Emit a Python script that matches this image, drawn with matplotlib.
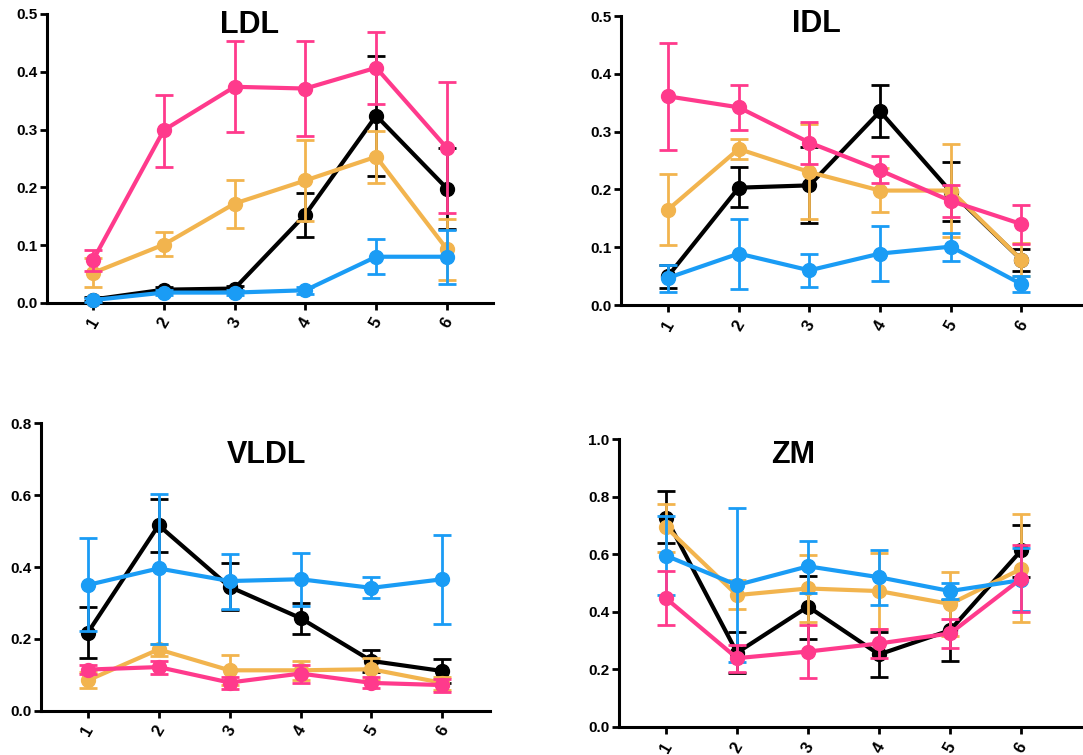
import numpy as np
import matplotlib
matplotlib.use('Agg')
import matplotlib.pyplot as plt

plt.rcParams['font.family'] = ['Liberation Sans', 'DejaVu Sans']
plt.rcParams['font.weight'] = 'bold'

x = [1, 2, 3, 4, 5, 6]
xlabels = ['1', '2', '3', '4', '5', '6']

# colours of the four groups
c_black = '#000000'
c_orange = '#F2B44E'
c_blue = '#1A9CF5'
c_pink = '#FF3A8C'

# LDL: mean, upper, lower
ldl_black = [0.006, 0.023, 0.025, 0.153, 0.324, 0.198]
ldl_black_hi = [0.010, 0.027, 0.030, 0.191, 0.428, 0.268]
ldl_black_lo = [0.003, 0.019, 0.020, 0.115, 0.219, 0.128]
ldl_orange = [0.052, 0.101, 0.172, 0.212, 0.253, 0.093]
ldl_orange_hi = [0.078, 0.122, 0.213, 0.282, 0.298, 0.145]
ldl_orange_lo = [0.028, 0.081, 0.130, 0.142, 0.208, 0.040]
ldl_blue = [0.005, 0.018, 0.018, 0.022, 0.080, 0.080]
ldl_blue_hi = [0.008, 0.022, 0.022, 0.028, 0.111, 0.127]
ldl_blue_lo = [0.002, 0.014, 0.014, 0.016, 0.050, 0.033]
ldl_pink = [0.074, 0.299, 0.374, 0.371, 0.407, 0.268]
ldl_pink_hi = [0.092, 0.360, 0.454, 0.453, 0.469, 0.382]
ldl_pink_lo = [0.056, 0.236, 0.295, 0.289, 0.345, 0.155]

# IDL
idl_black = [0.050, 0.203, 0.207, 0.335, 0.196, 0.078]
idl_black_hi = [0.070, 0.238, 0.274, 0.380, 0.247, 0.097]
idl_black_lo = [0.029, 0.169, 0.142, 0.290, 0.145, 0.058]
idl_orange = [0.165, 0.270, 0.230, 0.198, 0.198, 0.078]
idl_orange_hi = [0.226, 0.287, 0.313, 0.237, 0.279, 0.107]
idl_orange_lo = [0.104, 0.252, 0.149, 0.161, 0.118, 0.050]
idl_blue = [0.047, 0.089, 0.060, 0.089, 0.101, 0.036]
idl_blue_hi = [0.069, 0.149, 0.089, 0.136, 0.124, 0.051]
idl_blue_lo = [0.022, 0.028, 0.032, 0.042, 0.077, 0.022]
idl_pink = [0.361, 0.342, 0.281, 0.233, 0.180, 0.140]
idl_pink_hi = [0.454, 0.380, 0.317, 0.257, 0.207, 0.173]
idl_pink_lo = [0.268, 0.303, 0.244, 0.211, 0.152, 0.106]

# VLDL
vldl_black = [0.217, 0.516, 0.345, 0.258, 0.139, 0.111]
vldl_black_hi = [0.288, 0.588, 0.410, 0.301, 0.169, 0.145]
vldl_black_lo = [0.146, 0.443, 0.280, 0.215, 0.109, 0.078]
vldl_orange = [0.085, 0.171, 0.113, 0.113, 0.116, 0.078]
vldl_orange_hi = [0.109, 0.187, 0.155, 0.139, 0.146, 0.095]
vldl_orange_lo = [0.064, 0.154, 0.071, 0.087, 0.087, 0.059]
vldl_blue = [0.350, 0.396, 0.361, 0.366, 0.342, 0.366]
vldl_blue_hi = [0.480, 0.603, 0.436, 0.440, 0.371, 0.489]
vldl_blue_lo = [0.223, 0.187, 0.284, 0.291, 0.315, 0.243]
vldl_pink = [0.115, 0.122, 0.079, 0.104, 0.078, 0.072]
vldl_pink_hi = [0.127, 0.139, 0.095, 0.127, 0.095, 0.090]
vldl_pink_lo = [0.102, 0.104, 0.062, 0.078, 0.064, 0.053]

# ZM
zm_black = [0.727, 0.258, 0.418, 0.252, 0.336, 0.613]
zm_black_hi = [0.818, 0.331, 0.526, 0.331, 0.440, 0.702]
zm_black_lo = [0.638, 0.186, 0.306, 0.174, 0.230, 0.522]
zm_orange = [0.694, 0.458, 0.481, 0.472, 0.427, 0.549]
zm_orange_hi = [0.776, 0.510, 0.596, 0.603, 0.537, 0.738]
zm_orange_lo = [0.609, 0.410, 0.364, 0.342, 0.317, 0.363]
zm_blue = [0.595, 0.493, 0.558, 0.520, 0.472, 0.510]
zm_blue_hi = [0.731, 0.761, 0.647, 0.615, 0.500, 0.620]
zm_blue_lo = [0.458, 0.226, 0.466, 0.423, 0.444, 0.404]
zm_pink = [0.447, 0.239, 0.262, 0.290, 0.325, 0.515]
zm_pink_hi = [0.542, 0.284, 0.354, 0.339, 0.375, 0.632]
zm_pink_lo = [0.354, 0.190, 0.171, 0.241, 0.273, 0.400]


def draw_series(ax, y, hi, lo, color, z):
    y = np.array(y)
    err = [y - np.array(lo), np.array(hi) - y]
    ax.errorbar(x, y, yerr=err, color=color, lw=3, marker='o', ms=10,
                capsize=6.5, capthick=2, elinewidth=2, zorder=z)


def style_axis(ax, title, tx, ty, ymax, yticks, xlim):
    ax.set_xlim(xlim)
    ax.set_ylim(0, ymax)
    ax.set_yticks(yticks)
    ax.set_yticklabels(['%.1f' % t for t in yticks], fontsize=11, fontweight='bold')
    ax.set_xticks(x)
    ax.set_xticklabels(xlabels, rotation=60, ha='center', fontsize=12, fontweight='bold')
    for s in ['top', 'right']:
        ax.spines[s].set_visible(False)
    for s in ['left', 'bottom']:
        ax.spines[s].set_linewidth(2.2)
    ax.tick_params(width=2, length=5, pad=2)
    ax.tick_params(axis='x', pad=4)
    ax.text(tx, ty, title, transform=ax.transAxes, ha='center', va='center',
            fontsize=22, fontweight='bold')


fig = plt.figure(figsize=(10.83, 7.55), dpi=100)

ax1 = fig.add_axes([0.0434, 0.5987, 0.4118, 0.3828])
ax2 = fig.add_axes([0.5734, 0.5960, 0.4266, 0.3828])
ax3 = fig.add_axes([0.0379, 0.0583, 0.4145, 0.3814])
ax4 = fig.add_axes([0.5716, 0.0371, 0.4284, 0.3814])

panels = [
    (ax1, [(ldl_black, ldl_black_hi, ldl_black_lo), (ldl_orange, ldl_orange_hi, ldl_orange_lo),
           (ldl_blue, ldl_blue_hi, ldl_blue_lo), (ldl_pink, ldl_pink_hi, ldl_pink_lo)]),
    (ax2, [(idl_black, idl_black_hi, idl_black_lo), (idl_orange, idl_orange_hi, idl_orange_lo),
           (idl_blue, idl_blue_hi, idl_blue_lo), (idl_pink, idl_pink_hi, idl_pink_lo)]),
    (ax3, [(vldl_black, vldl_black_hi, vldl_black_lo), (vldl_orange, vldl_orange_hi, vldl_orange_lo),
           (vldl_blue, vldl_blue_hi, vldl_blue_lo), (vldl_pink, vldl_pink_hi, vldl_pink_lo)]),
    (ax4, [(zm_black, zm_black_hi, zm_black_lo), (zm_orange, zm_orange_hi, zm_orange_lo),
           (zm_blue, zm_blue_hi, zm_blue_lo), (zm_pink, zm_pink_hi, zm_pink_lo)]),
]
colors = [c_black, c_orange, c_blue, c_pink]

for ax, series in panels:
    for i, (y, hi, lo) in enumerate(series):
        draw_series(ax, y, hi, lo, colors[i], 3 + i)

style_axis(ax1, 'LDL', 0.455, 0.963, 0.5, [0, 0.1, 0.2, 0.3, 0.4, 0.5], (0.35, 6.65))
style_axis(ax2, 'IDL', 0.422, 0.972, 0.5, [0, 0.1, 0.2, 0.3, 0.4, 0.5], (0.335, 6.87))
style_axis(ax3, 'VLDL', 0.503, 0.889, 0.8, [0, 0.2, 0.4, 0.6, 0.8], (0.343, 6.67))
style_axis(ax4, 'ZM', 0.375, 0.944, 1.0, [0, 0.2, 0.4, 0.6, 0.8, 1.0], (0.34, 6.87))

for ax in [ax1, ax2, ax3, ax4]:
    for line in ax.lines:
        line.set_clip_on(False)

fig.savefig('out.png', dpi=100)
